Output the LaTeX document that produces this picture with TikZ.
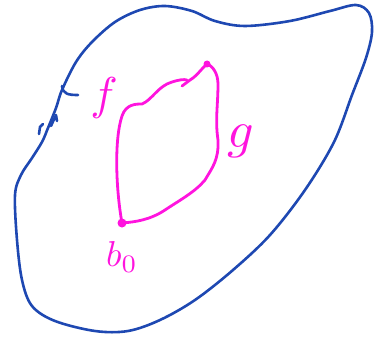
\documentclass[tikz,border=0pt]{standalone}
\usepackage{amsmath,amssymb}
\usepackage{xcolor}
\usetikzlibrary{positioning, calc, arrows}

\definecolor{penblue}{RGB}{30,72,178}
\definecolor{penpink}{RGB}{255,20,222}

\begin{document}
\begin{tikzpicture}[x=1pt, y=-1pt, line cap=round, line join=round]
        % Define styles
        \tikzstyle{region} = [draw=penblue, line width=2.6pt]
        \tikzstyle{loop} = [draw=penpink, line width=2.8pt]
        \tikzstyle{hand} = [text=penpink, inner sep=0pt]
        \useasboundingbox (0,0) rectangle (375,337);

        % Outer region
        \draw [region] plot[smooth cycle, tension=0.55] coordinates {
            (62,90) (76,62) (92,42) (115,22) (140,10) (165,6) (192,11) (215,21)
            (245,26) (290,21) (330,11) (356,5) (369,13) (372,32) (366,58)
            (352,95) (334,142) (305,190) (270,235) (233,270) (195,300)
            (160,320) (128,331) (95,331) (55,321) (32,306) (22,280) (17,240)
            (15,195) (21,175) (32,158) (42,142) (48,128) (56,108)};
        % Small hook and orientation mark on the boundary
        \draw [region] (62,86) .. controls (63,94) and (68,95) .. (78,95);
        \draw [region] (39,134) -- (40,127) -- (43,124);
        \draw [region] (51,126) -- (56,115) -- (57,121);

        % Base point
        \coordinate (b0) at (122,223);
        \coordinate (tip) at (207,64);
        \fill [penpink] (b0) circle (4.5pt);
        \fill [penpink] (tip) circle (3.5pt);

        % Left path f
        \draw [loop] (b0) .. controls (116,190) and (114,140) .. (122,116)
            .. controls (126,104) and (136,104) .. (142,104)
            .. controls (152,100) and (158,86) .. (172,82)
            .. controls (178,80) and (184,79) .. (187,80);
        \draw [loop] (182,86) -- (186,83) -- (190,80)
            .. controls (197,76) and (202,68) .. (tip);
        % Right path g
        \draw [loop] (tip) .. controls (213,66) and (218,74) .. (218,84)
            .. controls (218,105) and (215,120) .. (218,140)
            .. controls (219,160) and (212,168) .. (205,180)
            .. controls (195,192) and (180,200) .. (165,210)
            .. controls (150,220) and (135,222) .. (b0);

        % Labels
        \node (labf) [hand, scale=4.6] at (104,98) {$f$};
        \node (labg) [hand, scale=5.2] at (241,141) {$g$};
        \node (labb) [hand, scale=3.6, below=18pt of b0] {$b_0$};
    \end{tikzpicture}
\end{document}
